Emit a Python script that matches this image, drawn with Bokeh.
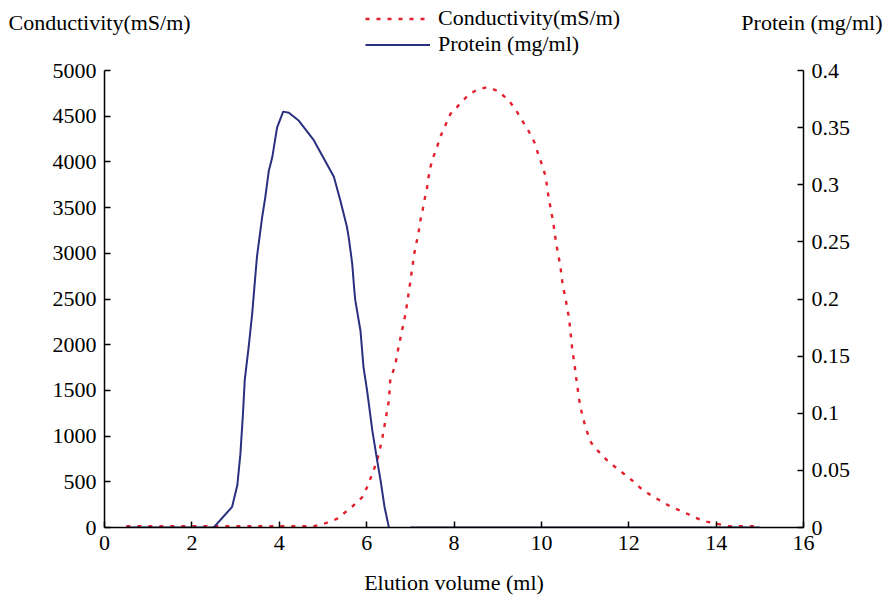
from bokeh.plotting import figure
from bokeh.layouts import column
from bokeh.models import (Range1d, LinearAxis, FixedTicker, CustomJSTickFormatter,
                          Legend, LegendItem, Label)
from bokeh.embed import file_html
from bokeh.resources import INLINE

nan = float("nan")

# Elution profile: conductivity (left axis) and protein (right axis) vs. volume
cond_volume = [0.5, 4.8, 5.02, 5.32, 5.51, 5.70, 5.90, 6.01, 6.13, 6.24, 6.35, 6.43, 6.51,
               6.54, 6.66, 6.73, 6.81, 6.89, 6.96, 7.02, 7.09, 7.14, 7.19, 7.23, 7.28, 7.33,
               7.38, 7.41, 7.46, 7.52, 7.61, 7.69, 7.80, 7.92, 8.03, 8.17, 8.34, 8.53, 8.76,
               9.02, 9.25, 9.40, 9.56, 9.71, 9.84, 9.92, 10.02, 10.11, 10.13, 10.18, 10.22,
               10.27, 10.30, 10.34, 10.38, 10.43, 10.46, 10.49, 10.55, 10.59, 10.64, 10.66,
               10.69, 10.71, 10.76, 10.78, 10.82, 10.85, 10.89, 10.95, 11.02, 11.14, 11.30,
               11.49, 11.71, 11.91, 12.08, 12.29, 12.49, 12.72, 12.95, 13.29, 13.50, 13.73,
               14.02, 14.28, 15.0]
conductivity = [15, 15, 40, 95, 167, 241, 332, 441, 587, 733, 952, 1171, 1389,
                1608, 1791, 1973, 2155, 2338, 2557, 2757, 2995, 3115, 3231, 3359, 3468, 3596,
                3705, 3815, 3942, 4045, 4161, 4278, 4398, 4526, 4580, 4653, 4737, 4789, 4817,
                4774, 4672, 4581, 4453, 4336, 4215, 4095, 3961, 3821, 3705, 3585, 3461,
                3351, 3231, 3110, 2995, 2874, 2765, 2640, 2520, 2399, 2276, 2155,
                2038, 1918, 1798, 1682, 1565, 1444, 1324, 1207, 1080, 927, 835,
                741, 653, 580, 514, 423, 358, 295, 230, 161, 113, 69,
                40, 15, 15]

prot_volume = [0.5, 2.5, 2.92, 3.04, 3.11, 3.17, 3.21, 3.30, 3.38, 3.43, 3.49, 3.61, 3.68,
               3.76, 3.84, 3.95, 4.09, 4.22, 4.45, 4.79, 5.02, 5.25, 5.40, 5.55, 5.59, 5.67,
               5.72, 5.74, 5.86, 5.93, 6.01, 6.13, 6.24, 6.32, 6.41, 6.51, nan, 7.0, 15.0]
protein = [0, 0, 0.018, 0.037, 0.064, 0.100, 0.129, 0.158, 0.187, 0.210, 0.237, 0.272, 0.289,
           0.312, 0.324, 0.350, 0.364, 0.363, 0.356, 0.339, 0.323, 0.307, 0.286, 0.263, 0.254, 0.231,
           0.207, 0.199, 0.172, 0.140, 0.120, 0.085, 0.059, 0.041, 0.018, 0, nan, 0, 0]

x_ticks = [0, 2, 4, 6, 8, 10, 12, 14, 16]
cond_ticks = [0, 500, 1000, 1500, 2000, 2500, 3000, 3500, 4000, 4500, 5000]
prot_ticks = [0, 0.05, 0.1, 0.15, 0.2, 0.25, 0.3, 0.35, 0.4]

cond_name = "Conductivity(mS/m)"
prot_name = "Protein (mg/ml)"

FONT = "Liberation Serif"
FS = "22px"
RED = "#e3202c"
NAVY = "#29307f"
COND_STYLE = dict(line_color=RED, line_width=2.4, line_dash="4 7")
PROT_STYLE = dict(line_color=NAVY, line_width=2)

# ---- main chart -----------------------------------------------------------
p = figure(width=885, height=541, output_backend="svg", toolbar_location=None,
           x_range=Range1d(0, 16), y_range=Range1d(0, 5000),
           min_border_left=104, min_border_right=82, min_border_top=12, min_border_bottom=72)
p.extra_y_ranges = {"protein": Range1d(0, 0.4)}
p.outline_line_color = None
p.grid.visible = False

p.line(cond_volume, conductivity, **COND_STYLE)
p.line(prot_volume, protein, y_range_name="protein", **PROT_STYLE)

right_axis = LinearAxis(y_range_name="protein")
p.add_layout(right_axis, "right")

p.xaxis.ticker = FixedTicker(ticks=x_ticks)
p.yaxis[0].ticker = FixedTicker(ticks=cond_ticks)
right_axis.ticker = FixedTicker(ticks=prot_ticks)
right_axis.formatter = CustomJSTickFormatter(code="return Number(tick.toFixed(2)).toString();")

for ax in [p.xaxis[0], p.yaxis[0], right_axis]:
    ax.major_tick_in = 6
    ax.major_tick_out = 0
    ax.minor_tick_line_color = None
    ax.axis_line_color = "black"
    ax.axis_line_width = 1.5
    ax.major_tick_line_color = "black"
    ax.major_tick_line_width = 1.5
    ax.major_label_text_font = FONT
    ax.major_label_text_font_size = FS
    ax.major_label_text_color = "black"
    ax.major_label_standoff = 8

p.xaxis.axis_label = "Elution volume (ml)"
p.xaxis.axis_label_text_font = FONT
p.xaxis.axis_label_text_font_size = FS
p.xaxis.axis_label_text_font_style = "normal"
p.xaxis.axis_label_text_color = "black"
p.xaxis.axis_label_standoff = 17

# ---- header strip: axis titles and the legend -------------------------------
top = figure(width=885, height=58, output_backend="svg", toolbar_location=None,
             x_range=Range1d(0, 16), y_range=Range1d(0, 5000),
             x_axis_type=None, y_axis_type=None, min_border=0)
top.outline_line_color = None

# the header keeps its own full-width frame instead of lining up with the chart
for fig in (top, p):
    if "frame_align" in fig.properties():
        fig.frame_align = False

top.add_layout(Label(x=8, y=36, x_units="screen", y_units="screen", text=cond_name,
                     text_font=FONT, text_font_size=FS, text_baseline="middle",
                     text_align="left", text_color="black"))
top.add_layout(Label(x=882, y=36, x_units="screen", y_units="screen", text=prot_name,
                     text_font=FONT, text_font_size=FS, text_baseline="middle",
                     text_align="right", text_color="black"))

# legend keys share the series data; they are only drawn inside the legend
key_cond = top.line(cond_volume, conductivity, visible=False, **COND_STYLE)
key_prot = top.line(prot_volume, protein, visible=False, **PROT_STYLE)
legend = Legend(items=[LegendItem(label=cond_name, renderers=[key_cond]),
                       LegendItem(label=prot_name, renderers=[key_prot])],
                location=(365, 1), padding=0, margin=0, spacing=0,
                glyph_width=65, glyph_height=25, label_height=25, label_standoff=8,
                label_text_font=FONT, label_text_font_size=FS, label_text_color="black",
                background_fill_alpha=0, border_line_alpha=0, inactive_fill_alpha=0)
top.add_layout(legend, "center")

layout = column(top, p, spacing=0)
open("out.html", "w").write(file_html(layout, INLINE))
